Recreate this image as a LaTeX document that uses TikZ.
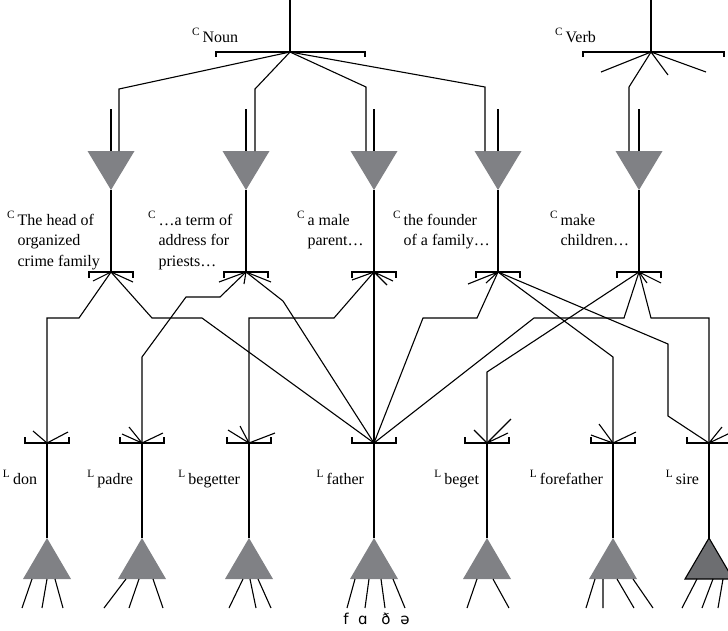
\documentclass[tikz,border=0pt]{standalone}
\usepackage{fontspec}
\setmainfont{Liberation Serif}
\newfontfamily\ipafont{DejaVu Sans}
\usetikzlibrary{positioning}
\definecolor{grey1}{RGB}{128,129,133}
\newcommand{\con}[1]{\textsuperscript{C}\,\begin{tabular}[t]{@{}l@{}}#1\end{tabular}}
\newcommand{\lex}[1]{\textsuperscript{L}\,#1}
\newcommand{\brk}[4]{\draw ([shift={(-#2,#4)}]#1) -- ([shift={(-#2,0)}]#1) -- ([shift={(#3,0)}]#1) -- ([shift={(#3,#4)}]#1);}

\begin{document}
\begin{tikzpicture}[x=1pt,y=-1pt,line width=1.1pt]
    \tikzstyle{every node} = [inner sep=0pt, outer sep=0pt, font=\fontsize{16}{20.5}\selectfont]
    \tikzstyle{concept} = [anchor=base west]
    \tikzstyle{lexeme}  = [anchor=base east]
    \tikzstyle{phone}   = [anchor=base, font=\ipafont\fontsize{15}{15}\selectfont]
    \useasboundingbox (0,0) rectangle (728,630);
    \clip (0,0) rectangle (728,630);

    % top
    \coordinate (noun_top) at (290,0);
    \coordinate (noun)     at (290,52);
    \coordinate (verb_top) at (651,0);
    \coordinate (verb)     at (651,52);
    \node[concept] (noun_lab) at (192,42) {\textsuperscript{C}\,Noun};
    \node[concept] (verb_lab) at (555,42) {\textsuperscript{C}\,Verb};
    \draw (noun_top) -- (noun);
    \draw (verb_top) -- (verb);
    \brk{noun}{74}{75}{5}
    \brk{verb}{68}{73}{5}
    \draw (verb) -- (601,72) (verb) -- (668,75) (verb) -- (706,72);

    % concept triangles
    \coordinate (a1) at (111,190);
    \coordinate (a2) at (246,190);
    \coordinate (a3) at (374,190);
    \coordinate (a4) at (498,190);
    \coordinate (a5) at (639,190);
    \foreach \i in {1,...,5}
        \fill[grey1] (a\i) -- ++(-23.5,-39) -- ++(47,0) -- cycle;
    \foreach \i in {1,...,5}
        \draw (a\i) ++(0,-81) -- ++(0,42);
    \draw (noun) -- (119,89) -- (119,151);
    \draw (noun) -- (255,89) -- (255,151);
    \draw (noun) -- (366,87) -- (366,151);
    \draw (noun) -- (485,87) -- (485,151);
    \draw (verb) -- (629,87) -- (629,151);

    % concepts
    \coordinate (c1) at (111,272);
    \coordinate (c2) at (246,272);
    \coordinate (c3) at (374,272);
    \coordinate (c4) at (498,272);
    \coordinate (c5) at (639,272);
    \foreach \i in {1,...,5} {
        \draw (a\i) -- (c\i);
        \brk{c\i}{22}{22}{6}
    }
    \node[concept] (l1) at (7,225)   {\con{The head of\\organized\\crime family}};
    \node[concept] (l2) at (148,225) {\con{…a term of\\address for\\priests…}};
    \node[concept] (l3) at (297,225) {\con{a male\\parent…}};
    \node[concept] (l4) at (393,225) {\con{the founder\\of a family…}};
    \node[concept] (l5) at (550,225) {\con{make\\children…}};

    % stubs under concepts
    \draw (c1) -- (93,281) (c1) -- (133,282);
    \draw (c2) -- (219,282) (c2) -- (244,284) (c2) -- (271,282);
    \draw (c3) -- (352,280) (c3) -- (387,285) (c3) -- (393,281);
    \draw (c4) -- (468,284) (c4) -- (486,283);
    \draw (c5) -- (647,283) (c5) -- (661,283);

    % lexemes
    \coordinate (don)        at (47,443);
    \coordinate (padre)      at (142,443);
    \coordinate (begetter)   at (249,443);
    \coordinate (father)     at (374,443);
    \coordinate (beget)      at (487,443);
    \coordinate (forefather) at (613,443);
    \coordinate (sire)       at (709,443);
    \foreach \w in {don,padre,begetter,father,beget,forefather,sire} {
        \brk{\w}{22}{22}{-6}
        \coordinate (\w_t) at ([yshift=-95pt]\w);
        \draw (\w) -- (\w_t);
    }

    % connections
    \draw (c1) -- (79,318) -- (47,318) -- (don);
    \draw (c1) -- (152,318) -- (202,318) -- (father);
    \draw (c2) -- (220,297) -- (186,297) -- (142,357) -- (padre);
    \draw (c2) -- (283,301) -- (father);
    \draw (c3) -- (334,318) -- (249,318) -- (begetter);
    \draw (c3) -- (father);
    \draw (c4) -- (477,318) -- (423,318) -- (father);
    \draw (c4) -- (613,357) -- (forefather);
    \draw (c4) -- (668,344) -- (668,416) -- (sire);
    \draw (c5) -- (624,318) -- (534,318) -- (father);
    \draw (c5) -- (487,372) -- (beget);
    \draw (c5) -- (651,318) -- (709,318) -- (sire);

    % stubs over lexemes
    \draw (don) -- (33,431) (don) -- (68,432);
    \draw (padre) -- (122,434) (padre) -- (129,427) (padre) -- (163,433);
    \draw (begetter) -- (228,430) (begetter) -- (240,426) (begetter) -- (275,433);
    \draw (beget) -- (474,430) (beget) -- (511,419) (beget) -- (508,433);
    \draw (forefather) -- (591,435) (forefather) -- (599,424) (forefather) -- (636,432);
    \draw (sire) -- (722,427) (sire) -- (730,433);

    \node[lexeme] (n_don)        at (37,484)  {\lex{don}};
    \node[lexeme] (n_padre)      at (133,484) {\lex{padre}};
    \node[lexeme] (n_begetter)   at (240,484) {\lex{begetter}};
    \node[lexeme] (n_father)     at (364,484) {\lex{father}};
    \node[lexeme] (n_beget)      at (479,484) {\lex{beget}};
    \node[lexeme] (n_forefather) at (603,484) {\lex{forefather}};
    \node[lexeme] (n_sire)       at (699,484) {\lex{sire}};

    % lexeme triangles
    \foreach \w in {don,padre,begetter,father,beget,forefather}
        \fill[grey1] (\w_t) -- ++(-24,41) -- ++(48,0) -- cycle;
    \filldraw[fill=grey1!85!black, draw=black] (sire_t) -- ++(-24,41) -- ++(48,0) -- cycle;

    % legs
    \draw (32,579) -- (22,608) (47,579) -- (42,608) (55,579) -- (63,608);
    \draw (126,579) -- (104,608) (139,579) -- (129,608) (153,579) -- (163,608);
    \draw (243,579) -- (229,608) (250,579) -- (256,608) (258,579) -- (271,608);
    \draw (355,579) -- (347,608) (369,579) -- (365,608) (381,579) -- (385,608) (393,579) -- (405,608);
    \draw (477,579) -- (467,608) (493,579) -- (509,608);
    \draw (595,579) -- (586,608) (603,579) -- (603,608) (617,579) -- (634,608) (633,579) -- (653,608);
    \draw (697,579) -- (682,608) (713,579) -- (702,608) (723,579) -- (718,608) (733,579) -- (730,608);

    \node[phone] (ph1) at (346,624) {f};
    \node[phone] (ph2) at (363,624) {ɑ};
    \node[phone] (ph3) at (386,624) {ð};
    \node[phone] (ph4) at (405,624) {ə};
\end{tikzpicture}
\end{document}
